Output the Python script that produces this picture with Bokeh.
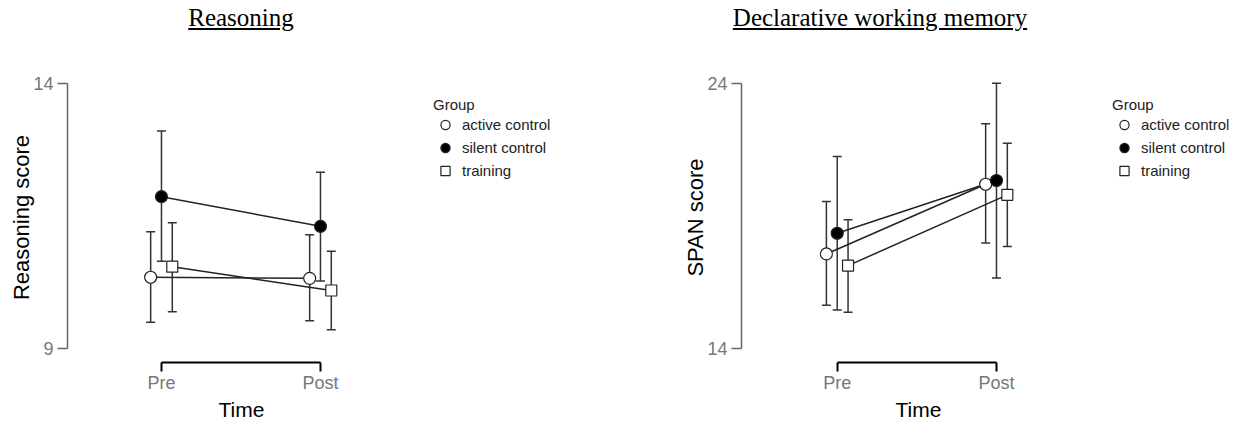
from bokeh.plotting import figure
from bokeh.models import (ColumnDataSource, Whisker, TeeHead, Legend, LegendItem,
                          FixedTicker, Range1d, Div, Spacer, Title)
from bokeh.layouts import row, column
from bokeh.embed import file_html
from bokeh.resources import INLINE

# ---------------- data ----------------
time_labels = ["Pre", "Post"]
groups = ["active control", "silent control", "training"]
x_title = "Time"

reasoning_active_mean = [10.35, 10.33]
reasoning_active_low = [9.50, 9.53]
reasoning_active_high = [11.21, 11.15]
reasoning_silent_mean = [11.87, 11.31]
reasoning_silent_low = [10.65, 10.28]
reasoning_silent_high = [13.11, 12.33]
reasoning_training_mean = [10.55, 10.10]
reasoning_training_low = [9.70, 9.36]
reasoning_training_high = [11.38, 10.84]

span_active_mean = [17.58, 20.21]
span_active_low = [15.64, 17.99]
span_active_high = [19.56, 22.49]
span_silent_mean = [18.36, 20.35]
span_silent_low = [15.47, 16.67]
span_silent_high = [21.26, 24.02]
span_training_mean = [17.14, 19.81]
span_training_low = [15.38, 17.86]
span_training_high = [18.87, 21.76]

reasoning_ticks = [9, 14]
span_ticks = [14, 24]

# ---------------- styling ----------------
FONT = "Liberation Sans"
dodge = [-0.068, 0.0, 0.068]
marker_styles = [
    dict(marker="circle", size=12, fill_color="white"),
    dict(marker="circle", size=12, fill_color="black"),
    dict(marker="square", size=11, fill_color="white"),
]


def make_panel(series, ticks, x_range, y_range, ylabel, width, border_left, border_right,
               legend_loc, time_offset):
    p = figure(width=width, height=380, x_range=x_range, y_range=y_range,
               output_backend="svg", toolbar_location=None,
               min_border_left=border_left, min_border_right=border_right,
               min_border_top=32, min_border_bottom=57)
    p.outline_line_color = None
    p.grid.visible = False
    p.background_fill_color = "white"
    p.border_fill_color = "white"

    xa = p.xaxis[0]
    xa.ticker = FixedTicker(ticks=[0, 1])
    xa.major_label_overrides = {0: time_labels[0], 1: time_labels[1]}
    xa.bounds = (0, 1)
    xa.axis_line_color = "black"
    xa.axis_line_width = 2
    xa.major_tick_line_color = "black"
    xa.major_tick_line_width = 2
    xa.major_tick_out = 9
    xa.major_tick_in = 0
    xa.minor_tick_line_color = None
    xa.major_label_text_font = FONT
    xa.major_label_text_font_size = "18px"
    xa.major_label_text_color = "#777777"
    xa.major_label_standoff = 1

    # x-axis title centred under the Pre..Post span
    t = Title(text=x_title, align="left", offset=time_offset, standoff=0,
              text_font=FONT, text_font_size="21px", text_font_style="normal",
              text_color="black")
    p.add_layout(t, "below")

    ya = p.yaxis[0]
    ya.ticker = FixedTicker(ticks=ticks)
    ya.bounds = (ticks[0], ticks[1])
    ya.axis_line_color = "#666666"
    ya.axis_line_width = 1.5
    ya.major_tick_line_color = "#666666"
    ya.major_tick_line_width = 1.5
    ya.major_tick_out = 10
    ya.major_tick_in = 0
    ya.minor_tick_line_color = None
    ya.major_label_text_font = FONT
    ya.major_label_text_font_size = "18px"
    ya.major_label_text_color = "#777777"
    ya.major_label_standoff = 4
    ya.axis_label = ylabel
    ya.axis_label_text_font = FONT
    ya.axis_label_text_font_size = "22px"
    ya.axis_label_text_font_style = "normal"
    ya.axis_label_text_color = "black"
    ya.axis_label_standoff = -4

    items = []
    sources = []
    for gi, (mean, low, high) in enumerate(series):
        xs = [tt + dodge[gi] for tt in range(len(time_labels))]
        src = ColumnDataSource(dict(x=xs, y=mean, low=low, high=high))
        sources.append(src)
        p.line("x", "y", source=src, line_color="#222222", line_width=1.5)
    for gi, src in enumerate(sources):
        w = Whisker(base="x", upper="high", lower="low", source=src, dimension="height",
                    line_color="#333333", line_width=1.5,
                    upper_head=TeeHead(size=9, line_color="#333333", line_width=1.5),
                    lower_head=TeeHead(size=9, line_color="#333333", line_width=1.5))
        p.add_layout(w)
    for gi, src in enumerate(sources):
        st = marker_styles[gi]
        r = p.scatter("x", "y", source=src, marker=st["marker"], size=st["size"],
                      fill_color=st["fill_color"], line_color="#222222", line_width=1.2)
        items.append(LegendItem(label=groups[gi], renderers=[r]))

    leg = Legend(items=items, title="Group", location=legend_loc)
    leg.title_text_font = FONT
    leg.title_text_font_size = "15px"
    leg.title_text_font_style = "normal"
    leg.title_text_color = "#222222"
    leg.label_text_font = FONT
    leg.label_text_font_size = "15px"
    leg.label_text_color = "#222222"
    leg.border_line_color = None
    leg.background_fill_alpha = 0
    leg.padding = 0
    leg.margin = 0
    leg.glyph_width = 24
    leg.glyph_height = 23
    leg.label_height = 23
    leg.spacing = 0
    leg.label_standoff = 5
    leg.title_standoff = 0
    p.add_layout(leg)
    return p


reasoning_series = [
    (reasoning_active_mean, reasoning_active_low, reasoning_active_high),
    (reasoning_silent_mean, reasoning_silent_low, reasoning_silent_high),
    (reasoning_training_mean, reasoning_training_low, reasoning_training_high),
]
span_series = [
    (span_active_mean, span_active_low, span_active_high),
    (span_silent_mean, span_silent_low, span_silent_high),
    (span_training_mean, span_training_low, span_training_high),
]

p1 = make_panel(reasoning_series, reasoning_ticks, Range1d(-0.591, 2.761), Range1d(8.742, 14.212),
                "Reasoning score", 620, 67, 20, (366, 180), 151)
p2 = make_panel(span_series, span_ticks, Range1d(-0.601, 2.463), Range1d(13.485, 24.425),
                "SPAN score", 611, 121, 2, (371, 180), 154)

title_style = {"font-family": "'Liberation Serif', 'Times New Roman', serif",
               "font-size": "25px", "line-height": "35px", "text-align": "center",
               "color": "black"}
d1 = Div(text="<u>Reasoning</u>", width=300, height=40, styles=title_style, margin=0)
d2 = Div(text="<u>Declarative working memory</u>", width=400, height=40, styles=title_style, margin=0)

layout = column(
    row(Spacer(width=91, height=40), d1, Spacer(width=289, height=40), d2),
    row(p1, p2),
)

open("out.html", "w").write(file_html(layout, INLINE))
